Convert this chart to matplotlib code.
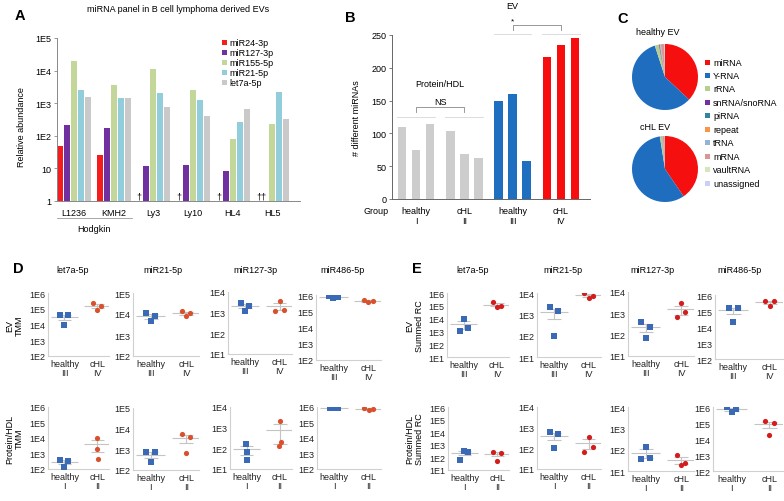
import numpy as np
import matplotlib
matplotlib.use('Agg')
import matplotlib.pyplot as plt
from matplotlib import font_manager as fm
from matplotlib.patches import Rectangle
from matplotlib.ticker import NullLocator

# keep the regular Liberation Sans, not the narrow cut
fm.fontManager.ttflist = [f for f in fm.fontManager.ttflist if 'Narrow' not in f.fname]
fm.fontManager._findfont_cached.cache_clear()
plt.rcParams['font.family'] = ['Liberation Sans', 'DejaVu Sans']
FS = 6.5
plt.rcParams['font.size'] = FS

W, H = 784, 502
nan = np.nan

# ---------------- panel A: miRNA panel per cell line
cell_lines = ['L1236', 'KMH2', 'Ly3', 'Ly10', 'HL4', 'HL5']
a_mirnas = ['miR24-3p', 'miR127-3p', 'miR155-5p', 'miR21-5p', 'let7a-5p']
a_colors = ['#f41c1c', '#7030a0', '#c4d79b', '#92cddc', '#c9c9c9']
mir24 = [50, 25, nan, nan, nan, nan]
mir127 = [210, 175, 12, 13, 8.5, nan]
mir155 = [20000, 3500, 11000, 2500, 80, 230]
mir21 = [2600, 1400, 2000, 1250, 270, 2200]
let7a = [1500, 1400, 750, 400, 650, 330]

# ---------------- panel B: number of different miRNAs
b_groups = ['healthy\nI', 'cHL\nII', 'healthy\nIII', 'cHL\nIV']
b_counts = [[110, 75, 115], [103, 68, 62], [150, 160, 58], [217, 235, 245]]
b_colors = ['#cdcdcd', '#cdcdcd', '#1f6fc0', '#f70d0d']

# ---------------- panel C: RNA biotypes
rna_types = ['miRNA', 'Y-RNA', 'rRNA', 'snRNA/snoRNA', 'piRNA', 'repeat',
             'tRNA', 'mRNA', 'vaultRNA', 'unassigned']
rna_colors = ['#f50f0f', '#1f6dbf', '#b7cf8e', '#7030a0', '#31849b', '#f79646',
              '#95b3d7', '#d99694', '#d7e4bd', '#cccff5']
healthy_ev = [37, 58, 2.0, 0.3, 0.2, 0.2, 0.3, 1.7, 0.2, 0.1]
chl_ev = [40.5, 57, 0.9, 0.1, 0.1, 0.1, 0.2, 1.0, 0.05, 0.05]

# ---------------- panels D/E: single miRNAs (3 donors per group)
mirs = ['let7a-5p', 'miR21-5p', 'miR127-3p', 'miR486-5p']
tmm_ev_h = [[4e4, 1e4, 4e4], [1.1e4, 4.5e3, 8e3], [2.9e3, 1.25e3, 2.2e3], [9e5, 6.5e5, 7.5e5]]
tmm_ev_c = [[2.2e5, 8.6e4, 1.6e5], [1.4e4, 8e3, 1.1e4], [1.25e3, 3.6e3, 1.4e3], [5e5, 3.5e5, 4.2e5]]
tmm_pr_h = [[3.8e2, 1.35e2, 3.3e2], [7.2e2, 2.4e2, 7.2e2], [1.7e2, 7e1, 2.6e1], [9e5, 9e5, 9e5]]
tmm_pr_c = [[1e4, 2e3, 4.5e2], [5.5e3, 6.5e2, 4e3], [1.3e2, 2.1e3, 2e2], [8.5e5, 6e5, 7.5e5]]
rc_ev_h = [[1e3, 9e3, 2e3], [2.2e3, 1e2, 1.4e3], [3.8e2, 6.9e1, 2.2e2], [1.6e5, 2e4, 1.5e5]]
rc_ev_c = [[1.9e5, 8e4, 1e5], [1e4, 6e3, 7.5e3], [6.5e2, 3e3, 1.1e3], [4.5e5, 2e5, 4e5]]
rc_pr_h = [[6e1, 3.5e2, 2.8e2], [6.4e2, 1e2, 4.7e2], [3.7e1, 1.4e2, 4.2e1], [1e6, 5e5, 7e5]]
rc_pr_c = [[2.6e2, 5.5e1, 2.4e2], [6.5e1, 3.7e2, 1.15e2], [5.7e1, 1.9e1, 2.4e1], [1.3e5, 1.8e4, 1e5]]
tmm_lims = [(2, 6), (2, 5), (1, 4), (2, 6)]
rc_lims_ev = [(1, 6), (1, 4), (1, 4), (2, 6)]
rc_lims_pr = [(1, 6), (1, 4), (1, 4), (2, 6)]

fig = plt.figure(figsize=(W / 100, H / 100), dpi=100)


def add_ax(x0, y0, x1, y1):
    return fig.add_axes([x0 / W, 1 - y1 / H, (x1 - x0) / W, (y1 - y0) / H])


def ftext(x, y, s, **kw):
    fig.text(x / W, 1 - y / H, s, **kw)


def fsquare(x, y, c, size=5):
    fig.add_artist(Rectangle((x / W, 1 - (y + size / 2) / H), size / W, size / H,
                             transform=fig.transFigure, color=c, lw=0))


# panel letters
for letter, x, y in [('A', 15, 20), ('B', 345, 22), ('C', 617, 23), ('D', 13, 273), ('E', 412, 273)]:
    ftext(x, y, letter, fontsize=10.5, fontweight='bold', va='baseline')

# ---------------- A
ax = add_ax(57, 39, 300, 202)
series = [mir24, mir127, mir155, mir21, let7a]
xg = np.arange(len(cell_lines))
pitch, bw = 0.177, 0.152
for i, (vals, c) in enumerate(zip(series, a_colors)):
    ax.bar(xg + (i - 2) * pitch, vals, width=bw, color=c, lw=0)
ax.set_yscale('log')
ax.set_ylim(1, 1e5)
ax.set_xlim(-0.43, 5.7)
ax.set_yticks([1, 10, 1e2, 1e3, 1e4, 1e5])
ax.set_yticklabels(['1', '10', '1E2', '1E3', '1E4', '1E5'])
ax.yaxis.set_minor_locator(NullLocator())
ax.set_xticks(xg)
ax.set_xticklabels(cell_lines)
ax.tick_params(axis='x', length=0, pad=5)
ax.tick_params(axis='y', length=2, width=0.6, color='#888888', pad=2)
for s in ['top', 'right']:
    ax.spines[s].set_visible(False)
for s in ['left', 'bottom']:
    ax.spines[s].set_color('#888888')
    ax.spines[s].set_linewidth(0.7)
ax.set_ylabel('Relative abundance', fontsize=FS)
ax.yaxis.set_label_coords(-0.145, 0.46)
ax.yaxis.label.set_va('center')
# missing values
for g in range(len(cell_lines)):
    miss = [i for i in range(2) if np.isnan(series[i][g])]
    if miss:
        xm = g + (np.mean(miss) - 2) * pitch
        ax.text(xm, 1, '\u2020' * len(miss), ha='center', va='bottom', fontsize=FS)
tr = ax.get_xaxis_transform()
ax.plot([-0.43, 1.45], [-0.105, -0.105], color='#999999', lw=0.6, transform=tr, clip_on=False)
ax.text(0.5, -0.17, 'Hodgkin', ha='center', va='center', transform=tr)
ftext(178, 10, 'miRNA panel in B cell lymphoma derived EVs', ha='center', va='center')
for i, (name, c) in enumerate(zip(a_mirnas, a_colors)):
    fsquare(222, 43 + 10 * i, c)
    ftext(229, 43 + 10 * i, name, va='center')

# ---------------- B
ax = add_ax(392, 36, 590, 200)
gp = 3.45
for g, (vals, c) in enumerate(zip(b_counts, b_colors)):
    ax.bar(g * gp + np.arange(3), vals, width=0.62, color=c, lw=0)
ax.set_xlim(-0.71, 13.43)
ax.set_ylim(0, 250)
ax.set_yticks(range(0, 251, 50))
ax.set_xticks([g * gp + 1 for g in range(4)])
ax.set_xticklabels(b_groups, linespacing=1.1)
ax.tick_params(axis='x', length=0, pad=5)
ax.tick_params(axis='y', length=2, width=0.6, color='#666666', pad=2)
for s in ['top', 'right']:
    ax.spines[s].set_visible(False)
for s in ['left', 'bottom']:
    ax.spines[s].set_color('#666666')
    ax.spines[s].set_linewidth(0.7)
ax.set_ylabel('# different miRNAs', fontsize=FS)
ax.yaxis.set_label_coords(-0.177, 0.5)
ax.yaxis.label.set_va('center')
ftext(376, 211, 'Group', ha='center', va='center')
lc = '#dcdcdc'
for g in range(4):
    yl = 125 if g < 2 else 251
    ax.plot([g * gp - 0.35, g * gp + 2.35], [yl, yl], color=lc, lw=0.7, clip_on=False)
bc = '#888888'
ax.plot([1, 1, gp + 1, gp + 1], [133, 140, 140, 133], color=bc, lw=0.6, clip_on=False)
ax.text((1 + gp + 1) / 2, 149, 'NS', ha='center', va='center')
ax.text((1 + gp + 1) / 2, 176, 'Protein/HDL', ha='center', va='center')
ax.plot([2 * gp + 1, 2 * gp + 1, 3 * gp + 1, 3 * gp + 1], [257, 266, 266, 257], color=bc, lw=0.6, clip_on=False)
ax.text((4 * gp + 2) / 2, 272, '*', ha='center', va='center', fontsize=6)
ax.text((4 * gp + 2) / 2, 295, 'EV', ha='center', va='center')

# ---------------- C
for vals, (cy, title, tx, ty) in zip([healthy_ev, chl_ev],
                                     [(78, 'healthy EV', 658, 33), (170, 'cHL EV', 655, 128)]):
    pax = add_ax(632, cy - 33, 698, cy + 33)
    pax.pie(vals, colors=rna_colors, startangle=90, counterclock=False,
            wedgeprops=dict(linewidth=0))
    pax.set_xlim(-1, 1)
    pax.set_ylim(-1, 1)
    ftext(tx, ty, title, ha='center', va='center')
for i, (name, c) in enumerate(zip(rna_types, rna_colors)):
    yy = 63 + 13.45 * i
    fsquare(705, yy, c)
    ftext(713, yy, name, va='center')

# ---------------- D / E
JIT = [-0.12, 0.0, 0.12]
STACK = [-0.02, 0.0, 0.02]
stacked = {('D', 1, 0, 1), ('D', 1, 2, 0), ('D', 1, 2, 1)}
blue = '#3a69b5'


def dot_panel(box, lims, hv, cv, xlabels, circ, key):
    ax = add_ax(*box)
    for gi, (vals, mk, col) in enumerate([(hv, 's', blue), (cv, 'o', circ)]):
        offs = STACK if key + (gi,) in stacked else JIT
        m = np.mean(vals)
        se = np.std(vals, ddof=1) / np.sqrt(len(vals))
        gl = '#c4c4c4'
        ax.hlines(m, gi - 0.41, gi + 0.41, color=gl, lw=0.8, zorder=1)
        lo = max(m - se, 10 ** lims[0] * 1.01)
        ax.hlines([lo, m + se], gi - 0.2, gi + 0.2, color=gl, lw=0.8, zorder=1)
        ax.vlines(gi, lo, m + se, color=gl, lw=0.8, zorder=1)
        ax.scatter(np.array(offs) + gi, vals, marker=mk, s=14, color=col, lw=0, zorder=3)
    ax.set_yscale('log')
    ax.set_ylim(10 ** lims[0], 10 ** lims[1])
    ks = range(lims[0], lims[1] + 1)
    ax.set_yticks([10.0 ** k for k in ks])
    ax.set_yticklabels([f'1E{k}' for k in ks])
    ax.yaxis.set_minor_locator(NullLocator())
    ax.set_xlim(-0.5, 1.36)
    ax.set_xticks([0, 1])
    ax.set_xticklabels(xlabels, linespacing=1.1)
    ax.tick_params(length=0, pad=2, labelsize=FS, colors='#222222')
    for s in ['top', 'right']:
        ax.spines[s].set_visible(False)
    for s in ['left', 'bottom']:
        ax.spines[s].set_color('#d0d0d0')
        ax.spines[s].set_linewidth(0.8)
    return ax


d_boxes1 = [(48, 294, 109, 357), (133, 294, 199, 357), (228, 293, 292, 355), (316, 296, 381, 361)]
d_boxes2 = [(48, 408, 109, 470), (133, 409, 199, 471), (230, 408, 292, 470), (317, 408, 381, 470)]
e_boxes1 = [(447, 294, 509, 358), (537, 294, 601, 358), (628, 293, 694, 357), (715, 296, 783, 360)]
e_boxes2 = [(448, 408, 509, 471), (537, 408, 601, 470), (628, 408, 694, 472), (713, 408, 783, 472)]
lab1 = ['healthy\nIII', 'cHL\nIV']
lab2 = ['healthy\nI', 'cHL\nII']
d_title_x = [73, 163, 255, 343]
e_title_x = [473, 563, 652, 740]
red_d = '#d9502c'
red_e = '#d41c1c'

for j in range(4):
    a1 = dot_panel(d_boxes1[j], tmm_lims[j], tmm_ev_h[j], tmm_ev_c[j], lab1, red_d, ('D', 0, j))
    a2 = dot_panel(d_boxes2[j], tmm_lims[j], tmm_pr_h[j], tmm_pr_c[j], lab2, red_d, ('D', 1, j))
    b1 = dot_panel(e_boxes1[j], rc_lims_ev[j], rc_ev_h[j], rc_ev_c[j], lab1, red_e, ('E', 0, j))
    b2 = dot_panel(e_boxes2[j], rc_lims_pr[j], rc_pr_h[j], rc_pr_c[j], lab2, red_e, ('E', 1, j))
    ftext(d_title_x[j], 271, mirs[j], ha='center', va='center')
    ftext(e_title_x[j], 271, mirs[j], ha='center', va='center')
    if j == 0:
        for axx, lab, xc in [(a1, 'EV\nTMM', -0.55), (a2, 'Protein/HDL\nTMM', -0.55),
                             (b1, 'EV\nSummed RC', -0.52), (b2, 'Protein/HDL\nSummed RC', -0.55)]:
            axx.set_ylabel(lab, fontsize=FS, linespacing=1.1)
            axx.yaxis.set_label_coords(xc, 0.5)
            axx.yaxis.label.set_va('center')

fig.savefig('out.png', dpi=100)
